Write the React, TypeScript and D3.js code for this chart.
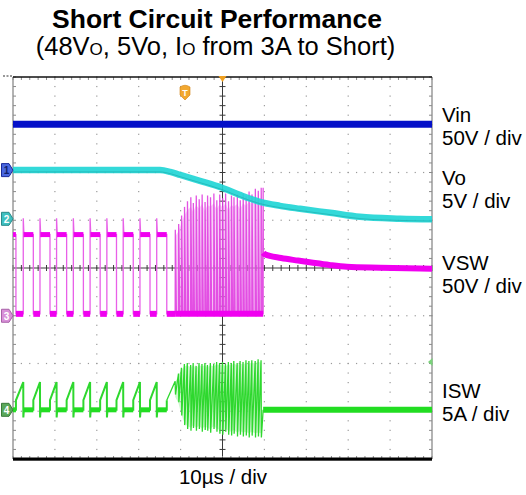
import React from "react";
import * as d3 from "d3";

const W = 526;
const H = 495;

// ---- scope settings (10 µs / div, 10 divisions) ----
const timeDomain = [0, 100];
const channelNames = ["Vin", "Vo", "VSW", "ISW"];
const channelScaleLabels = ["50V / div", "5V / div", "50V / div", "5A / div"];
const channelUnitsPerDiv = [50, 5, 50, 5];
const channelGroundDiv = [2.05, 1.03, -1.0, -2.97];
const channelMarkers = ["1", "2", "3", "4"];
const timeLabel = "10µs / div";

// ---- Vin (V) ----
const vinTime = [0, 100];
const vinValue = [48, 48];

// ---- Vo (V) ----
const voTime = [0, 35.1, 37.5, 39.9, 44.6, 49.9, 54.1, 58.9, 63.7, 68.5, 75.7, 82.8, 92.4, 100];
const voValue = [5.1, 5.1, 4.92, 4.6, 3.98, 3.25, 2.51, 1.78, 1.36, 1.05, 0.63, 0.21, 0.02, -0.05];

// ---- normal switching before the short (µs) ----
const swFallTimes = [0.7, 4.85, 8.83, 12.8, 16.8, 20.8, 24.7, 28.7, 32.7, 36.7];
const swRiseTimes = [2.45, 6.44, 10.4, 14.4, 18.4, 22.4, 26.3, 30.3, 34.3];
const vswHigh = 85;
const vswLow = 2;
const vswSpike = 102;
const iswValley = 1.0;
const iswPeak = 2.9;
const iswUndershoot = -0.8;

// ---- burst during the short (µs, V, A) ----
const burstTime = [38.7, 39.5, 40.2, 40.9, 41.6, 42.4, 43.0, 43.7, 44.4, 45.1, 45.8, 46.4, 47.1, 47.9, 48.6,
  49.3, 50.0, 50.7, 51.4, 52.1, 52.7, 53.5, 54.2, 54.9, 55.6, 56.3, 57.0, 57.8, 58.5, 59.2];
const burstVswPeak = [90, 96, 105, 114, 120, 124, 118, 126, 122, 127, 119, 126, 124, 128, 121,
  127, 123, 128, 120, 126, 124, 127, 121, 128, 125, 130, 127, 133, 131, 134];
const burstIswPeak = [3.0, 3.8, 4.4, 4.8, 4.9, 4.7, 4.9, 4.6, 4.9, 4.8, 4.9, 4.7, 4.9, 4.8, 5.0,
  4.9, 5.0, 4.8, 5.0, 4.9, 5.1, 4.9, 5.1, 5.0, 5.2, 5.1, 5.2, 5.1, 5.3, 5.2];
const burstIswTrough = [1.6, 0.8, -0.6, -1.6, -2.0, -2.2, -1.9, -2.2, -2.0, -2.3, -2.1, -2.2, -2.4, -2.0, -2.3,
  -2.5, -2.6, -2.3, -2.6, -2.7, -2.5, -2.8, -2.6, -2.8, -2.7, -2.9, -2.7, -2.9, -2.8, -2.9];
const burstEnd = 59.7;

// ---- VSW after switching stops ----
const vswTailTime = [59.7, 60.1, 64.0, 68.0, 71.6, 75.5, 79.7, 87.6, 100];
const vswTailValue = [66, 64.4, 60.5, 57.8, 55.5, 53.2, 51.3, 50.3, 49.2];

const FONT = "'Liberation Sans', Arial, Helvetica, sans-serif";

export default function App() {
  const x = d3.scaleLinear().domain(timeDomain).range([13, 432]);
  const yDiv = d3.scaleLinear().domain([-4, 4]).range([459, 77]);
  const yCh = (c: number) => (v: number) => yDiv(channelGroundDiv[c] + v / channelUnitsPerDiv[c]);
  const yVin = yCh(0), yVo = yCh(1), yVsw = yCh(2), yIsw = yCh(3);

  const pathFor = (pts: [number, number][], yf: (v: number) => number, curve?: any) => {
    const l = d3.line<[number, number]>().x((d) => x(d[0])).y((d) => yf(d[1]));
    if (curve) l.curve(curve);
    return l(pts) || "";
  };

  // ---- VSW regular path ----
  const vswPts: [number, number][] = [[0, vswHigh], [swFallTimes[0], vswHigh], [swFallTimes[0], vswLow]];
  swRiseTimes.forEach((tr, i) => {
    const tf = swFallTimes[i + 1];
    vswPts.push([tr, vswLow], [tr, vswSpike], [tr + 0.12, vswHigh + 4], [tr + 0.3, vswHigh - 2], [tf, vswHigh], [tf, vswLow]);
  });
  vswPts.push([burstTime[0], vswLow]);
  const vswHighSegs: [number, number][] = [[0, swFallTimes[0]]];
  swRiseTimes.forEach((tr, i) => vswHighSegs.push([tr + 0.1, swFallTimes[i + 1]]));
  const vswLowSegs: [number, number][] = swFallTimes.map((tf, i) => [tf, i < swRiseTimes.length ? swRiseTimes[i] : burstTime[0]]);
  vswLowSegs.push([burstTime[0], burstEnd]);

  // ---- VSW burst ----
  const vswBurstPts: [number, number][] = [];
  burstTime.forEach((t, i) => {
    vswBurstPts.push([t, vswLow], [t + 0.04, burstVswPeak[i]], [t + 0.3, vswLow]);
  });
  vswBurstPts.push([burstEnd, vswLow], [burstEnd, burstVswPeak[burstVswPeak.length - 1]], [burstEnd + 0.05, vswTailValue[0]]);
  const hazeVsw = d3.area<number>()
    .x((i) => x(burstTime[i]))
    .y0(() => yVsw(vswLow))
    .y1((i) => yVsw(vswLow + (burstVswPeak[i] - vswLow) * 0.92));
  const vswTailPts: [number, number][] = vswTailTime.map((t, i) => [t, vswTailValue[i]]);

  // ---- ISW ----
  const iswPts: [number, number][] = [[0, 0], [swFallTimes[0], 0]];
  swFallTimes.forEach((tf, i) => {
    iswPts.push([tf, 0], [tf, iswValley]);
    if (i < swRiseTimes.length) {
      const tr = swRiseTimes[i];
      iswPts.push([tr, iswPeak], [tr + 0.02, iswUndershoot], [tr + 0.15, 0]);
    }
  });
  const iswFlatSegs: [number, number][] = [[0, swFallTimes[0]]];
  swRiseTimes.forEach((tr, i) => iswFlatSegs.push([tr + 0.15, swFallTimes[i + 1]]));
  const iswBurstPts: [number, number][] = [[swFallTimes[swFallTimes.length - 1], iswValley]];
  burstTime.forEach((t, i) => {
    iswBurstPts.push([t, burstIswPeak[i]], [t + 0.08, burstIswTrough[i]]);
  });
  iswBurstPts.push([burstEnd, 0]);
  const hazeIsw = d3.area<number>()
    .x((i) => x(burstTime[i]))
    .y0((i) => yIsw(burstIswTrough[i] * 0.85))
    .y1((i) => yIsw(burstIswPeak[i] * 0.95));
  const idx = burstTime.map((_, i) => i);

  // ---- Vin / Vo ----
  const vinPts: [number, number][] = vinTime.map((t, i) => [t, vinValue[i]]);
  const voPts: [number, number][] = voTime.map((t, i) => [t, voValue[i]]);

  // ---- grid ----
  const xMajor = d3.range(0, 101, 10);
  const xMinor = d3.range(0, 100.01, 2);
  const yMajor = d3.range(-4, 4.01, 1);
  const yMinor = d3.range(-4, 4.01, 0.2);
  const x0 = x(timeDomain[0]), x1 = x(timeDomain[1]);
  const yTop = yDiv(4), yBot = yDiv(-4);
  const xc = x(50), yc = yDiv(0);

  const dots: any[] = [];
  xMajor.slice(1, -1).forEach((t) => {
    if (t === 50) return;
    yMinor.forEach((d, j) => dots.push(<rect key={`vx${t}-${j}`} x={x(t) - 0.6} y={yDiv(d) - 0.6} width={1.2} height={1.2} fill="#9a9a9a" />));
  });
  yMajor.slice(1, -1).forEach((d) => {
    if (d === 0) return;
    xMinor.forEach((t, j) => dots.push(<rect key={`hy${d}-${j}`} x={x(t) - 0.6} y={yDiv(d) - 0.6} width={1.2} height={1.2} fill="#9a9a9a" />));
  });

  const markerShape = (yy: number) => `M1.5,${yy - 6.5} L9,${yy - 6.5} L13,${yy} L9,${yy + 6.5} L1.5,${yy + 6.5} Z`;
  const markerFill = ["#4a68e0", "#3fc0c0", "#d890d8", "#5aa85a"];
  const markerStroke = ["#1a2a9a", "#2a8a8a", "#a860a8", "#3a7a3a"];
  const markerText = ["#10206a", "#ffffff", "#ffffff", "#ffffff"];

  const labelY = [[122, 145], [185, 208], [270, 293], [398, 421]];

  return (
    <svg width={W} height={H} style={{ position: "fixed", left: 0, top: 0, display: "block", background: "#fff" }} fontFamily={FONT}>
      <rect x={0} y={0} width={W} height={H} fill="#fff" />
      {/* Title */}
      <text x={217} y={28} textAnchor="middle" fontSize={26.5} fontWeight="bold" fill="#000">Short Circuit Performance</text>
      <text x={215.5} y={55} textAnchor="middle" fontSize={25.5} fill="#000">
        (48V<tspan fontSize={17}>O</tspan>, 5Vo, I<tspan fontSize={17}>O</tspan> from 3A to Short)
      </text>

      {/* Grid dots */}
      <g>{dots}</g>

      {/* center cross */}
      <line x1={xc} x2={xc} y1={yTop} y2={yBot} stroke="#3a3a3a" strokeWidth={1} />
      <line x1={x0} x2={x1} y1={yc} y2={yc} stroke="#3a3a3a" strokeWidth={1} />
      {yMinor.map((d, i) => (
        <line key={`cty${i}`} x1={xc - 3} x2={xc + 3} y1={yDiv(d)} y2={yDiv(d)} stroke="#3a3a3a" strokeWidth={1} />
      ))}
      {xMinor.map((t, i) => (
        <line key={`ctx${i}`} x1={x(t)} x2={x(t)} y1={yc - 3} y2={yc + 3} stroke="#3a3a3a" strokeWidth={1} />
      ))}

      {/* frame */}
      <line x1={x0} x2={x0} y1={yTop} y2={yBot} stroke="#8a8a8a" strokeWidth={1.3} />
      <line x1={x1} x2={x1} y1={yTop} y2={yBot} stroke="#8a8a8a" strokeWidth={1.3} />
      {yMinor.map((d, i) => (
        <g key={`ey${i}`}>
          <line x1={x0} x2={x0 + 3} y1={yDiv(d)} y2={yDiv(d)} stroke="#8a8a8a" strokeWidth={1} />
          <line x1={x1 - 3} x2={x1} y1={yDiv(d)} y2={yDiv(d)} stroke="#8a8a8a" strokeWidth={1} />
        </g>
      ))}
      {xMinor.map((t, i) => (
        <g key={`ex${i}`}>
          <line x1={x(t)} x2={x(t)} y1={yTop} y2={yTop + 3} stroke="#8a8a8a" strokeWidth={1} />
          <line x1={x(t)} x2={x(t)} y1={yBot - 3} y2={yBot} stroke="#8a8a8a" strokeWidth={1} />
        </g>
      ))}
      <line x1={x0} x2={x1} y1={yTop} y2={yTop} stroke="#111" strokeWidth={1.6} />
      <line x1={3} x2={x0} y1={yTop - 1} y2={yTop - 1} stroke="#333" strokeWidth={1.2} strokeDasharray="2,1.5" />
      <rect x={x0} y={yBot - 1.5} width={x1 - x0} height={3.2} fill="#000" />

      {/* Vin */}
      <path d={pathFor(vinPts, yVin)} fill="none" stroke="#0410c8" strokeWidth={7} />

      {/* VSW */}
      <path d={hazeVsw(idx) || ""} fill="#f0a8f0" opacity={0.55} />
      <path d={pathFor(vswBurstPts, yVsw)} fill="none" stroke="#e040e0" strokeWidth={1.3} opacity={0.9} />
      <path d={pathFor(vswPts, yVsw)} fill="none" stroke="#e860e8" strokeWidth={1.3} />
      {vswHighSegs.map((s, i) => (
        <line key={`vh${i}`} x1={x(s[0])} x2={x(s[1])} y1={yVsw(vswHigh)} y2={yVsw(vswHigh)} stroke="#f000f0" strokeWidth={5} />
      ))}
      {vswLowSegs.map((s, i) => (
        <line key={`vl${i}`} x1={x(s[0])} x2={x(s[1])} y1={yVsw(vswLow)} y2={yVsw(vswLow)} stroke="#f000f0" strokeWidth={6} />
      ))}
      <path d={pathFor(vswTailPts, yVsw, d3.curveMonotoneX)} fill="none" stroke="#f000f0" strokeWidth={6} />

      {/* Vo */}
      <path d={pathFor(voPts, yVo, d3.curveMonotoneX)} fill="none" stroke="#22d6d6" strokeWidth={6.5} opacity={0.92} />
      <path d={pathFor(voPts, yVo, d3.curveMonotoneX)} fill="none" stroke="#139a9a" strokeWidth={1} opacity={0.45} transform="translate(0,1.8)" />

      {/* ISW */}
      <path d={hazeIsw(idx) || ""} fill="#9ef09e" opacity={0.5} />
      <path d={pathFor(iswBurstPts, yIsw)} fill="none" stroke="#2ed82e" strokeWidth={1.3} />
      <path d={pathFor(iswPts, yIsw)} fill="none" stroke="#2ed82e" strokeWidth={2} />
      {iswFlatSegs.map((s, i) => (
        <line key={`if${i}`} x1={x(s[0])} x2={x(s[1])} y1={yIsw(0)} y2={yIsw(0)} stroke="#22dd22" strokeWidth={5} />
      ))}
      <line x1={x(burstEnd)} x2={x1} y1={yIsw(0)} y2={yIsw(0)} stroke="#22dd22" strokeWidth={6} />

      {/* channel markers on the left */}
      {channelMarkers.map((m, i) => {
        const yy = yDiv(channelGroundDiv[i]);
        return (
          <g key={`mk${i}`}>
            <path d={markerShape(yy)} fill={markerFill[i]} stroke={markerStroke[i]} strokeWidth={1} />
            <text x={6.5} y={yy + 4} textAnchor="middle" fontSize={10} fontWeight="bold" fill={markerText[i]}>{m}</text>
          </g>
        );
      })}

      {/* trigger markers */}
      <path d={`M${xc - 4},${yTop - 1} L${xc + 4},${yTop - 1} L${xc},${yTop + 5} Z`} fill="#f0a020" />
      <path d={`M180,87 Q185,83.5 190,87 L190,95 L185,100 L180,95 Z`} fill="#f2a830" stroke="#d08010" strokeWidth={0.6} />
      <text x={185} y={95.5} textAnchor="middle" fontSize={9} fontWeight="bold" fill="#fff">T</text>
      <path d={`M${x1 - 4},${yIsw(5)} L${x1 + 0.5},${yIsw(5) - 4} L${x1 + 0.5},${yIsw(5) + 4} Z`} fill="#7ad27a" />

      {/* right labels */}
      {channelNames.map((n, i) => (
        <g key={`lb${i}`}>
          <text x={442} y={labelY[i][0]} fontSize={20.5} fill="#000">{n}</text>
          <text x={442} y={labelY[i][1]} fontSize={20.5} fill="#000">{channelScaleLabels[i]}</text>
        </g>
      ))}
      <text x={223} y={484} textAnchor="middle" fontSize={20.5} fill="#000">{timeLabel}</text>
    </svg>
  );
}
